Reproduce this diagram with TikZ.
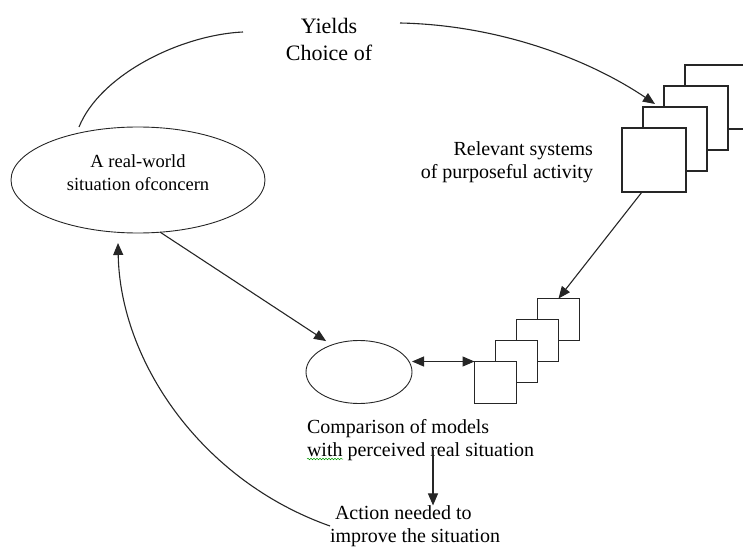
\documentclass[tikz,border=0pt]{standalone}
\usepackage{fontspec}
\setmainfont{Liberation Serif}
\usetikzlibrary{shapes.geometric,arrows.meta,calc,decorations.pathmorphing}
\begin{document}
\begin{tikzpicture}[x=1pt,y=-1pt,
  line/.style={line width=1.1pt, draw=black!85},
  tipA/.tip={Triangle[length=12pt,width=10pt]},
  arr/.style={line, -tipA},
  darr/.style={line, tipA-tipA},
  bigsq/.style={draw=black!85, line width=1.1pt, fill=white, minimum size=64pt, inner sep=0pt, outer sep=0pt},
  smsq/.style={bigsq, minimum size=42pt},
  ell/.style={draw=black!85, ellipse, line width=0.9pt, inner sep=0pt, outer sep=0pt},
  txt/.style={inner sep=0pt, outer sep=0pt, font=\fontsize{20}{23}\selectfont},
]
\useasboundingbox (0,0) rectangle (743,548);

% big stacked squares
\node[bigsq] (b4) at (717,97) {};
\node[bigsq] (b3) at (696,118) {};
\node[bigsq] (b2) at (675,139) {};
\node[bigsq] (b1) at (654,160) {};

% small stacked squares
\node[smsq] (s4) at (558.5,319.5) {};
\node[smsq] (s3) at (537.5,340.5) {};
\node[smsq] (s2) at (516.5,361.5) {};
\node[smsq] (s1) at (495.5,382.5) {};

% ellipses
\node[ell, minimum width=254pt, minimum height=106pt] (real) at (138,180) {};
\node[ell, minimum width=106pt, minimum height=63pt] (small) at (359,372) {};

% texts
\node[txt, font=\fontsize{22}{27}\selectfont, align=center] (yields) at (329,39) {Yields\\Choice of};
\node[txt, font=\fontsize{18.5}{23}\selectfont, align=center] (realtxt) at (138,173) {A real-world\\situation ofconcern};
\node[txt, align=right, anchor=east] (relev) at (593,162) {Relevant systems\\of purposeful activity};
\node[txt, align=left, anchor=west] (comp) at (307,440) {Comparison of models\\with perceived real situation};
\node[txt, align=left, anchor=west] (action) at (330,526) {\hspace*{5pt}Action needed to\\improve the situation};

% spell-check squiggle under "with"
\draw[green!60!black, line width=0.5pt, decorate, decoration={snake, segment length=3pt, amplitude=0.8pt}] (307,459) -- (343,459);

% connectors
\coordinate (lstart) at (79,127);
\coordinate (lend) at (243,32);
\coordinate (rstart) at (400,23);
\coordinate (rtip) at (655,104);
\coordinate (fb) at (118,243);
\coordinate (vs) at (433,450);

\draw[line] (lstart) .. controls (100,75) and (180,35) .. (lend);
\draw[arr] (rstart) .. controls (500,25) and (590,60) .. (rtip);
\draw[arr] ($(b1.south west)+(20,0)$) -- (s4.north);
\draw[arr, shorten >=7pt] (real.-67) -- (small.135);
\draw[darr] (small.east |- s1.north west) -- (s1.north west);
\draw[arr] (vs) -- (vs |- action.north);
\draw[arr] (action.west) .. controls (200,480) and (120,360) .. (fb);
\end{tikzpicture}
\end{document}
